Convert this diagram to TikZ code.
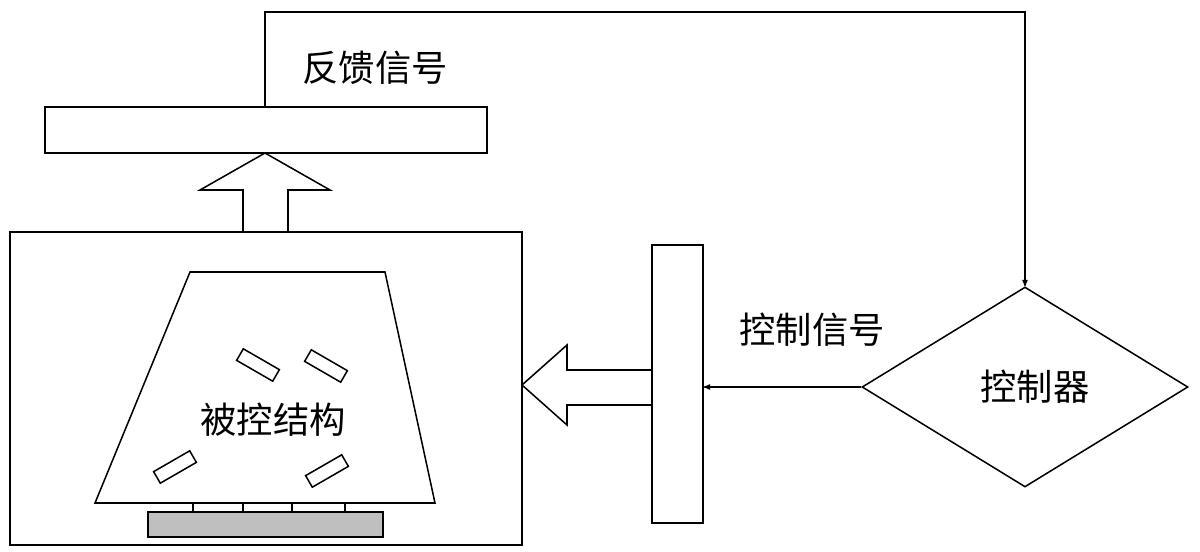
\documentclass[tikz,border=0pt]{standalone}
\usepackage{fontspec}
\newfontfamily\cjk{Noto Sans CJK SC}
\usetikzlibrary{arrows,shapes.geometric}

\begin{document}
\begin{tikzpicture}[x=0.03cm, y=-0.03cm, >=stealth', line width=1.3pt,
    lbl/.style={font=\cjk\fontsize{31}{36}\selectfont, inner sep=0pt},
    chip/.style={draw, rectangle, minimum width=1.25cm, minimum height=0.4cm, inner sep=0pt}]
    \useasboundingbox (0,0) rectangle (1200,551);

    % Boxes
    \node [draw, rectangle, minimum width=442*0.03cm, minimum height=46*0.03cm] (sensor) at (266,130) {};
    \node [draw, rectangle, minimum width=512*0.03cm, minimum height=313*0.03cm] (frame) at (266,388.5) {};
    \node [draw, rectangle, minimum width=51*0.03cm, minimum height=278*0.03cm] (actuator) at (677.5,384) {};
    \node [draw, diamond, aspect=1.63, minimum width=326*0.03cm, minimum height=200*0.03cm, inner sep=0pt] (ctrl) at (1025,387) {};
    \node [lbl] (ctrltxt) at (1035,387) {控制器};

    % Structure
    \draw (190,272) -- (385,272) -- (435,503) -- (95,503) -- cycle;
    \node [lbl] (struct) at (273,420) {被控结构};
    \node [chip, rotate=-30] (c1) at (258,365) {};
    \node [chip, rotate=-30] (c2) at (326,366) {};
    \node [chip, rotate=30] (c3) at (175,467) {};
    \node [chip, rotate=30] (c4) at (327,471) {};
    \draw [line width=0.9pt] (193,503) rectangle (345,512);
    \foreach \x in {243,292} \draw [line width=0.9pt] (\x,503) -- (\x,512);
    \draw [fill=black!25] (148,512) rectangle (383,537);

    % Hollow arrows
    \draw (243,232) -- (243,190) -- (200,190) -- (265,153) -- (330,190) -- (288,190) -- (288,232);
    \draw (652,370) -- (567,370) -- (567,345) -- (522,385) -- (567,425) -- (567,405) -- (652,405);

    % Signals
    \coordinate (fb) at (265,107);
    \draw [->, line width=1pt] (fb) -- (265,12) -- (ctrl.north |- 0,12) -- (ctrl.north);
    \draw [->, line width=1pt] (ctrl.west) -- (actuator.east |- ctrl.west);
    \node [lbl] (fbtxt) at (375,68) {反馈信号};
    \node [lbl] (cstxt) at (812,330) {控制信号};
\end{tikzpicture}
\end{document}
